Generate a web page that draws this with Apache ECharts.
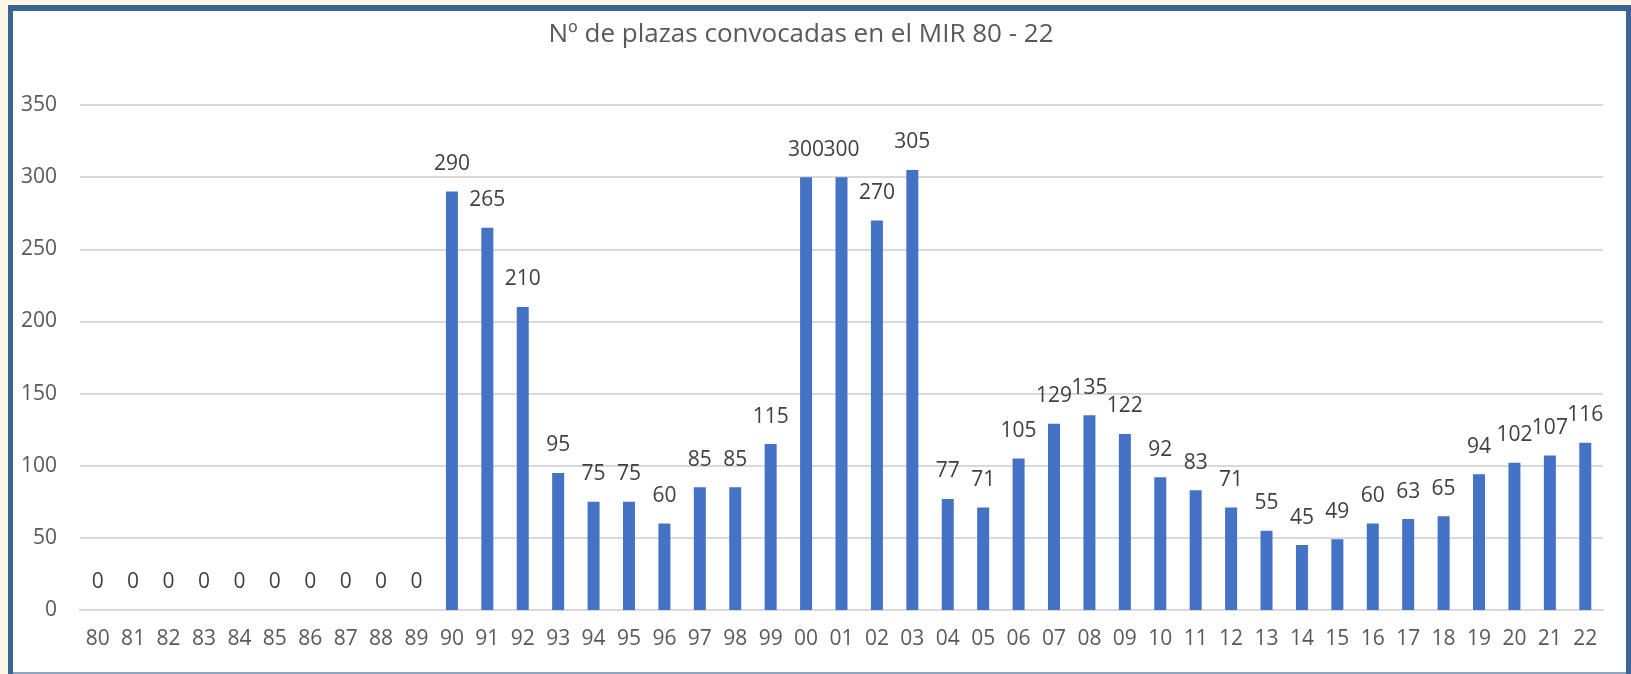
<!DOCTYPE html>
<html>
<head>
<meta charset="utf-8">
<script src="https://cdn.jsdelivr.net/npm/echarts@6/dist/echarts.min.js"></script>
<style>
  html, body { margin: 0; padding: 0; background: #fdf5e6; }
  #main { width: 1631px; height: 674px; }
</style>
</head>
<body>
<div id="main"></div>
<script>
// años de la convocatoria
var years = ['80', '81', '82', '83', '84', '85', '86', '87', '88', '89',
    '90', '91', '92', '93', '94', '95', '96', '97', '98', '99',
    '00', '01', '02', '03', '04', '05', '06', '07', '08', '09',
    '10', '11', '12', '13', '14', '15', '16', '17', '18', '19',
    '20', '21', '22'];
// plazas convocadas
var plazas = [0, 0, 0, 0, 0, 0, 0, 0, 0, 0,
    290, 265, 210, 95, 75, 75, 60, 85, 85, 115,
    300, 300, 270, 305, 77, 71, 105, 129, 135, 122,
    92, 83, 71, 55, 45, 49, 60, 63, 65, 94,
    102, 107, 116];
var titulo = 'Nº de plazas convocadas en el MIR 80 - 22';

var myChart = echarts.init(document.getElementById('main'));
var font = '"Open Sans", sans-serif';

myChart.setOption({
    backgroundColor: '#fdf5e6',
    animation: false,
    graphic: [
        { type: 'rect', z: -10, shape: { x: 8, y: 5, width: 1623, height: 669 }, style: { fill: '#3b6494' } },
        { type: 'rect', z: -9, shape: { x: 13, y: 11, width: 1613, height: 661 }, style: { fill: '#ffffff' } },
        { type: 'rect', z: -9, shape: { x: 13, y: 672, width: 1613, height: 2 }, style: { fill: '#8fa3c2' } }
    ],
    title: {
        text: titulo,
        left: 796,
        top: 17,
        textAlign: 'center',
        textStyle: { fontFamily: font, fontSize: 26, fontWeight: 'normal', color: '#595959' }
    },
    grid: { left: 80, right: 28, top: 105, bottom: 64 },
    xAxis: {
        type: 'category',
        data: years,
        axisLine: { lineStyle: { color: '#d9d9d9', width: 2 } },
        axisTick: { show: false },
        axisLabel: { fontFamily: font, fontSize: 21, color: '#595959', margin: 19, interval: 0 }
    },
    yAxis: {
        type: 'value',
        min: 0,
        max: 350,
        interval: 50,
        splitLine: { lineStyle: { color: '#d9d9d9', width: 2 } },
        axisLabel: { fontFamily: font, fontSize: 21, color: '#595959', margin: 23 }
    },
    series: [{
        type: 'bar',
        data: plazas,
        barWidth: 12,
        itemStyle: { color: '#4472c4' },
        label: {
            show: true,
            position: 'top',
            distance: 17,
            fontFamily: font,
            fontSize: 21,
            color: '#404040'
        }
    }]
});
</script>
</body>
</html>
